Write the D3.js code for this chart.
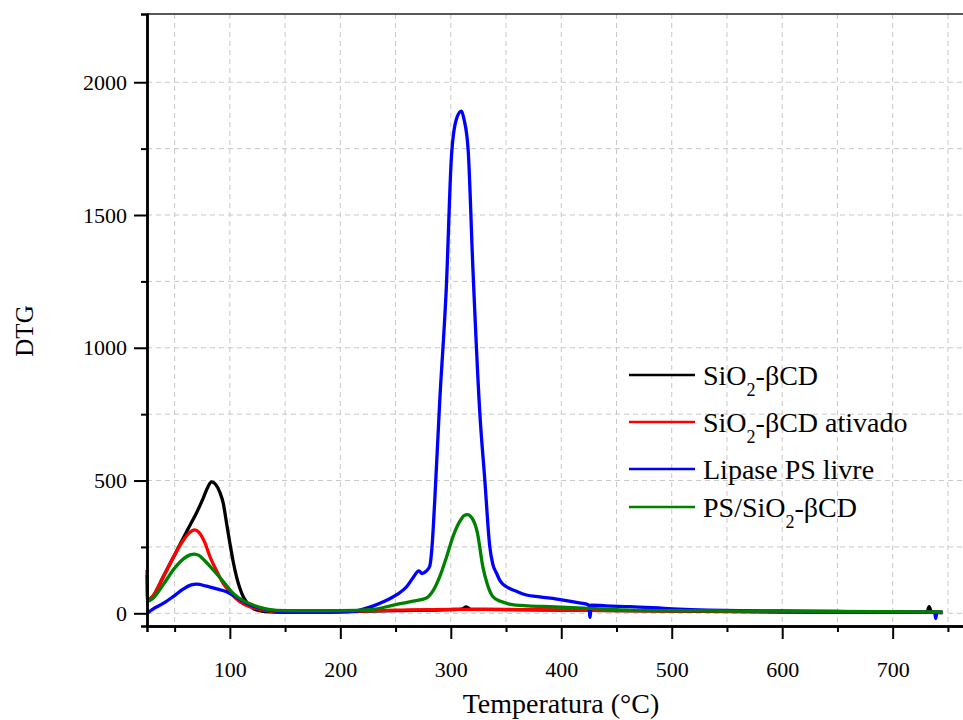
<!DOCTYPE html>
<html>
<head>
<meta charset="utf-8">
<script src="https://cdn.jsdelivr.net/npm/d3@7"></script>
<style>
  body { margin: 0; background: #fff; }
  svg { display: block; }
  svg text { font-family: "Liberation Serif", Tinos, "Times New Roman", "DejaVu Serif", serif !important; fill: #000; }
</style>
</head>
<body>
<svg id="svg"></svg>
<script>
// series: [temperature °C, DTG]
const sio2Bcd = [[25,45],[30,62],[40,140],[50,220],[58,285],[65,340],[70,380],[76,435],[80,475],[83.5,495],[87,486],[91,455],[94,415],[97,340],[100,265],[103,195],[106,138],[109,95],[112,63],[116,38],[121,19],[127,10],[133,6],[150,4],[200,6],[250,10],[300,14],[310,16],[314,24],[318,15],[350,14],[400,12],[500,8],[600,5],[700,4],[731,5],[733,25],[735,6],[745,3]];
const sio2BcdAtivado = [[25,163],[25.6,50],[30,63],[40,140],[50,220],[58,276],[63,302],[68,314],[72,305],[77,270],[82,213],[88,160],[94,113],[100,80],[109,44],[118,25],[127,15],[140,8],[200,8],[250,12],[300,15],[350,15],[400,12],[500,9],[600,6],[700,5],[745,4]];
const lipaseLivre = [[25,0],[30,15],[40,38],[48.7,63],[58,92],[65,107],[70,110],[78,103],[88,92],[97,81],[106,60],[115,38],[125,22],[139,10],[160,4],[190,4],[211,6],[220,15],[230,28],[240,45],[251,70],[260,100],[266,135],[271,160],[274,150],[278,160],[281,178],[283,250],[285.5,427],[290,800],[296,1231],[300.6,1721],[305,1860],[309.7,1891],[312,1860],[315.7,1746],[320,1300],[326.3,753],[330.8,502],[335.3,251],[338,185],[341.4,151],[345,120],[350.4,100],[360,82],[368.5,69],[380.6,62],[401.7,50],[415,40],[425,31],[426,-15],[427,31],[440,28],[462,25],[501,17],[561,10],[600,9],[650,7],[700,5],[738,4],[739,-20],[740,4],[745,3]];
const psSio2Bcd = [[25,144],[25.6,45],[30,55],[40,110],[50,170],[58,205],[64,220],[68,223],[72,218],[78,195],[85,163],[95,115],[103,75],[112,48],[121,31],[135,15],[150,10],[200,10],[230,15],[248,31],[266,46],[278,58],[284,85],[290,138],[296,210],[302,289],[308,345],[312,368],[315,372],[319,360],[324,305],[329,176],[333,110],[338,63],[345,45],[353,35],[370,28],[390,25],[430,18],[462,12],[500,10],[600,8],[700,6],[745,5]];

const seriesData = [sio2Bcd, sio2BcdAtivado, lipaseLivre, psSio2Bcd];
const seriesColors = ["#000000", "#ff0000", "#0000ff", "#008000"];
// legend labels split as [before subscript, subscript, after]
const legendLabels = [["SiO", "2", "-\u03b2CD"], ["SiO", "2", "-\u03b2CD ativado"], ["Lipase PS livre", "", ""], ["PS/SiO", "2", "-\u03b2CD"]];

const xMajor = [100, 200, 300, 400, 500, 600, 700];
const xMinor = [50, 150, 250, 350, 450, 550, 650, 750];
const yMajor = [0, 500, 1000, 1500, 2000];
const yMinor = [250, 750, 1250, 1750];

const width = 963, height = 720;
const plotL = 147, plotR = 970, plotT = 14, plotB = 626;
const serif = '"Liberation Serif", Tinos, "Times New Roman", "DejaVu Serif", serif';

const svg = d3.select("svg")
  .attr("width", width)
  .attr("height", height);

const x = d3.scaleLinear().domain([25, 770]).range([plotL, plotR]);
const y = d3.scaleLinear().domain([-47.8, 2257]).range([plotB, plotT]);

// grid
const grid = svg.append("g")
  .attr("stroke", "#c8c8c8")
  .attr("stroke-width", 1)
  .attr("stroke-dasharray", "5,4");
grid.selectAll("line.vx")
  .data(d3.merge([xMajor, xMinor]))
  .enter().append("line")
  .attr("x1", d => x(d)).attr("x2", d => x(d))
  .attr("y1", plotT).attr("y2", plotB);
grid.selectAll("line.hy")
  .data(d3.merge([yMajor, yMinor]))
  .enter().append("line")
  .attr("y1", d => y(d)).attr("y2", d => y(d))
  .attr("x1", plotL).attr("x2", plotR);

// curves
const line = d3.line()
  .x(d => x(d[0]))
  .y(d => y(d[1]))
  .curve(d3.curveMonotoneX);

svg.append("g").selectAll("path")
  .data(seriesData)
  .enter().append("path")
  .attr("d", line)
  .attr("fill", "none")
  .attr("stroke", (d, i) => seriesColors[i])
  .attr("stroke-width", 3.3)
  .attr("stroke-linejoin", "round");

// top border
svg.append("line")
  .attr("x1", plotL).attr("x2", plotR)
  .attr("y1", plotT).attr("y2", plotT)
  .attr("stroke", "#222").attr("stroke-width", 1.6);

// axes
const styleAxis = g => {
  g.attr("font-family", serif).attr("font-size", 22);
  g.select(".domain").attr("stroke", "#000").attr("stroke-width", 2.5);
  g.selectAll(".tick line").attr("stroke", "#000").attr("stroke-width", 2);
  g.selectAll("text").attr("fill", "#000");
};

svg.append("g")
  .attr("transform", `translate(0,${plotB})`)
  .call(d3.axisBottom(x).tickValues(xMinor).tickSize(6).tickFormat(""))
  .call(styleAxis);
svg.append("g")
  .attr("transform", `translate(0,${plotB})`)
  .call(d3.axisBottom(x).tickValues(xMajor).tickSize(13).tickSizeOuter(0).tickPadding(22).tickFormat(d3.format("d")))
  .call(styleAxis);

svg.append("g")
  .attr("transform", `translate(${plotL},0)`)
  .call(d3.axisLeft(y).tickValues(yMinor).tickSize(6).tickFormat(""))
  .call(styleAxis);
svg.append("g")
  .attr("transform", `translate(${plotL},0)`)
  .call(d3.axisLeft(y).tickValues(yMajor).tickSize(13).tickSizeOuter(0).tickPadding(7).tickFormat(d3.format("d")))
  .call(styleAxis);

// axis titles
svg.append("text")
  .attr("x", (plotL + 975) / 2)
  .attr("y", 713)
  .attr("text-anchor", "middle")
  .attr("font-family", serif)
  .attr("font-size", 28)
  .text("Temperatura (\u00b0C)");

svg.append("text")
  .attr("transform", "translate(33,331) rotate(-90)")
  .attr("text-anchor", "middle")
  .attr("font-family", serif)
  .attr("font-size", 25)
  .text("DTG");

// legend
const legend = svg.append("g");
const rowY = i => 375 + i * 47 - (i === 3 ? 9 : 0);
legendLabels.forEach((lab, i) => {
  legend.append("line")
    .attr("x1", 629).attr("x2", 695)
    .attr("y1", rowY(i)).attr("y2", rowY(i))
    .attr("stroke", seriesColors[i])
    .attr("stroke-width", 2.5);
  const t = legend.append("text")
    .attr("x", 703)
    .attr("y", rowY(i) + 10)
    .attr("font-family", serif)
    .attr("font-size", 28);
  t.append("tspan").text(lab[0]);
  if (lab[1]) {
    t.append("tspan").attr("dy", 11).attr("font-size", 18).text(lab[1]);
    t.append("tspan").attr("dy", -11).text(lab[2]);
  }
});
</script>
</body>
</html>
